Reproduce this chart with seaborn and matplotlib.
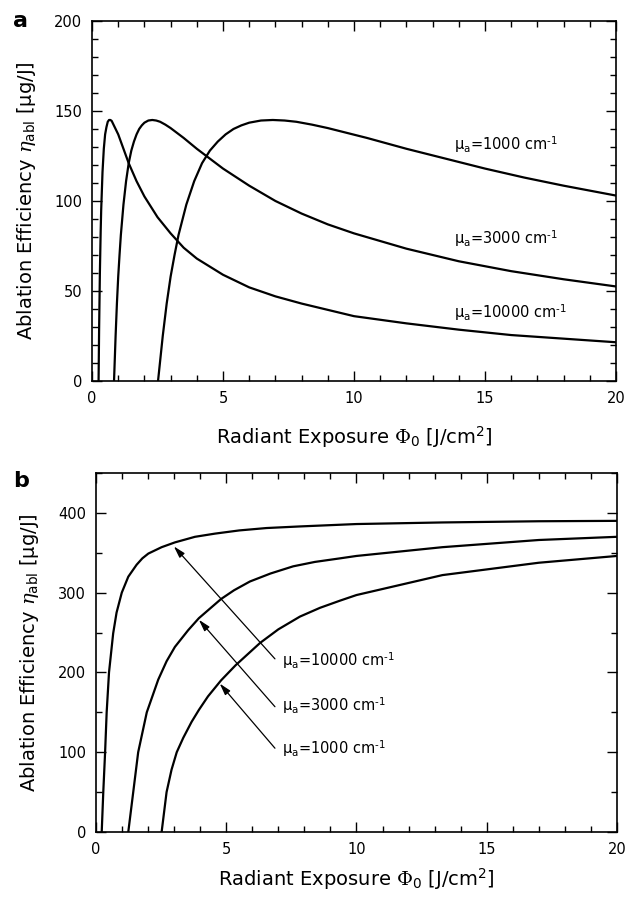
import numpy as np
import pandas as pd
import seaborn as sns
import matplotlib.pyplot as plt
from matplotlib.ticker import MultipleLocator

# panel a: ablation efficiency vs radiant exposure (peaked curves)
phi_a_10000 = [0.25, 0.27, 0.3, 0.33, 0.35, 0.4, 0.45, 0.5, 0.55, 0.6, 0.65, 0.7, 0.75, 0.8, 0.9,
               1.0, 1.2, 1.4, 1.7, 2.0, 2.5, 3.0, 3.5, 4, 5, 6, 7, 8, 10, 12, 14, 16, 18, 20]
eta_a_10000 = [0, 28, 60, 83, 95, 116, 129, 137, 141, 144, 145, 145, 144.5, 143, 140,
               137, 129, 121, 111, 102.5, 91, 82, 74, 68, 59, 52, 47, 43, 36, 32, 28.5, 25.5, 23.5, 21.5]
phi_a_3000 = [0.84, 0.9, 0.95, 1.0, 1.05, 1.1, 1.2, 1.3, 1.4, 1.5, 1.6, 1.7, 1.8, 1.9, 2.0, 2.15,
              2.3, 2.45, 2.6, 2.8, 3.0, 3.5, 4, 4.5, 5, 6, 7, 8, 9, 10, 12, 14, 16, 18, 20]
eta_a_3000 = [0, 25, 43, 58, 70, 81, 98, 111, 121, 128, 133, 137, 140, 142, 143.5, 144.7,
              145, 144.7, 144, 142.4, 140.5, 135, 129, 123.5, 118, 108.5, 100, 93, 87, 82,
              73.5, 66.5, 61, 56.5, 52.5]
phi_a_1000 = [2.52, 2.7, 2.85, 3.0, 3.15, 3.3, 3.6, 3.9, 4.2, 4.5, 4.8, 5.1, 5.4, 5.7, 6.0, 6.45,
              6.9, 7.35, 7.8, 8.4, 9.0, 10.5, 12, 13.5, 15, 16.5, 18, 20]
eta_a_1000 = [0, 25, 43, 58, 70, 81, 98, 111, 121, 128, 133, 137, 140, 142, 143.5, 144.7,
              145, 144.7, 144, 142.4, 140.5, 135, 129, 123.5, 118, 113, 108.5, 103]

# panel b: saturating curves
phi_b_10000 = [0.22, 0.28, 0.35, 0.41, 0.5, 0.66, 0.79, 0.99, 1.24, 1.56, 1.78, 2.01, 2.52, 3.03,
               3.8, 4.57, 5.5, 6.55, 7.83, 10, 13.3, 17, 20]
eta_b_10000 = [0, 50, 100, 150, 200, 249, 275, 300, 320, 335, 343, 349, 357, 363,
               370, 374, 378, 381, 383, 386, 388, 389.5, 390]
phi_b_3000 = [1.24, 1.43, 1.62, 1.95, 2.39, 2.71, 3.03, 3.54, 3.95, 4.8, 5.3, 5.91, 6.7, 7.57,
              8.4, 9.37, 10, 13.3, 17, 20]
eta_b_3000 = [0, 50, 100, 150, 191, 214, 232, 253, 268, 292, 303, 314, 324, 333,
              338.5, 343, 346, 357, 366, 370]
phi_b_1000 = [2.52, 2.71, 2.9, 3.1, 3.35, 3.67, 3.95, 4.3, 4.8, 5.36, 6.3, 7.0, 7.83, 8.6, 9.37,
              10, 13.3, 17, 20]
eta_b_1000 = [0, 50, 78, 100, 118, 138, 153, 170, 190, 209, 237, 254, 270, 281, 290,
              297, 322, 337.5, 346]

mu_values = ["1000", "3000", "10000"]

sns.set_style("ticks")
plt.rcParams['font.family'] = ['DejaVu Sans']
plt.rcParams['mathtext.fontset'] = 'custom'
plt.rcParams['mathtext.rm'] = 'DejaVu Serif'
plt.rcParams['mathtext.it'] = 'DejaVu Serif:italic'
plt.rcParams['mathtext.sf'] = 'DejaVu Sans'
for k in ['text.color', 'axes.labelcolor', 'xtick.color', 'ytick.color', 'axes.edgecolor']:
    plt.rcParams[k] = 'black'


def mu_label(v):
    return "μ$_{\\mathsf{a}}$=" + v + " cm$^{\\mathsf{\u2010}\\mathsf{1}}$"


fig = plt.figure(figsize=(6.29, 8.97), dpi=100)
ax_a = fig.add_axes([0.1463, 0.5753, 0.8330, 0.4013])
ax_b = fig.add_axes([0.1526, 0.0725, 0.8283, 0.4002])

for phi, eta in [(phi_a_10000, eta_a_10000), (phi_a_3000, eta_a_3000), (phi_a_1000, eta_a_1000)]:
    sns.lineplot(x=phi, y=eta, ax=ax_a, color='black', lw=1.6, estimator=None, sort=False)
for phi, eta in [(phi_b_10000, eta_b_10000), (phi_b_3000, eta_b_3000), (phi_b_1000, eta_b_1000)]:
    sns.lineplot(x=phi, y=eta, ax=ax_b, color='black', lw=1.6, estimator=None, sort=False)

ylab = "Ablation Efficiency $\\eta_{\\mathsf{abl}}$ [μg/J]"
xlab = "Radiant Exposure $\\Phi_{\\mathsf{0}}$ [J/cm$^{\\mathsf{2}}$]"

for ax, ymax, ymaj, ymin, xpad in [(ax_a, 200, 50, 10, 14), (ax_b, 450, 100, 50, 7)]:
    ax.set_xlim(0, 20)
    ax.set_ylim(0, ymax)
    ax.xaxis.set_major_locator(MultipleLocator(5))
    ax.xaxis.set_minor_locator(MultipleLocator(1))
    ax.yaxis.set_major_locator(MultipleLocator(ymaj))
    ax.yaxis.set_minor_locator(MultipleLocator(ymin))
    ax.tick_params(which='both', direction='in', top=True, right=True, width=1,
                   labelsize=10.5, pad=7, colors='black')
    ax.tick_params(which='major', length=7)
    ax.tick_params(which='minor', length=4.5)
    for s in ax.spines.values():
        s.set_linewidth(1.2)
        s.set_color('black')
    ax.set_xlabel(xlab, fontsize=14, labelpad=xpad)
    ax.set_ylabel(ylab, fontsize=14, labelpad=12)

# labels panel a
for v, y in zip(mu_values, [128.3, 76.1, 34.8]):
    ax_a.text(13.82, y, mu_label(v), fontsize=10.5, va='baseline', ha='left')

# labels + arrows panel b
for v, y, tail, tip in zip(mu_values, [97.8, 152, 208],
                           [(6.87, 105), (6.87, 157), (6.87, 217)],
                           [(4.75, 186), (3.95, 266), (2.99, 358)]):
    ax_b.text(7.13, y, mu_label(v), fontsize=10.5, va='baseline', ha='left')
    ax_b.annotate('', xy=tip, xytext=tail,
                  arrowprops=dict(arrowstyle='-|>,head_length=0.7,head_width=0.2',
                                  color='black', lw=0.9, shrinkA=0, shrinkB=0))

fig.text(0.021, 1 - 27 / 897, 'a', fontsize=16, fontweight='bold', va='baseline')
fig.text(0.021, 1 - 487 / 897, 'b', fontsize=16, fontweight='bold', va='baseline')

fig.savefig('out.png', dpi=100)
